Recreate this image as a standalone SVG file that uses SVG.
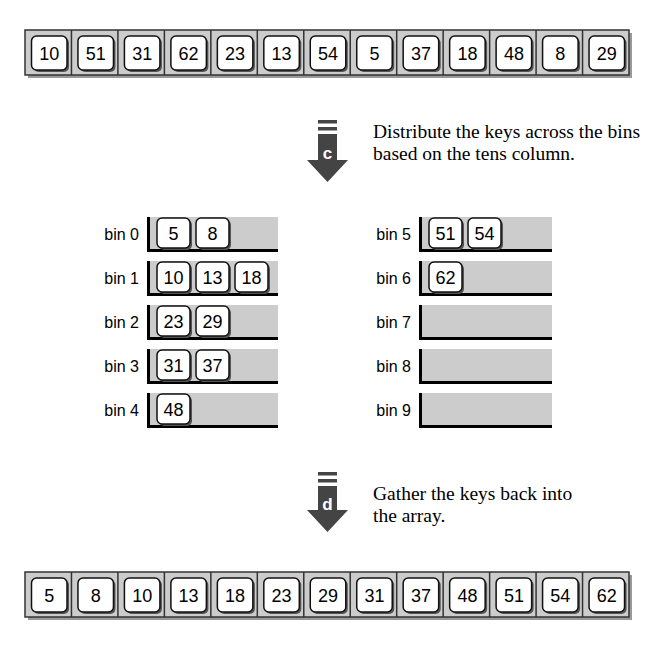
<svg xmlns="http://www.w3.org/2000/svg" width="659" height="650" viewBox="0 0 659 650">
<style>
.arr{fill:#cccccc;stroke:#333333;stroke-width:1.5}
.ash{fill:#999999}
.div{stroke:#333333;stroke-width:1.5}
.key{fill:#ffffff;stroke:#111111;stroke-width:1.5}
.ksh{fill:#555555}
.kt{font-family:"Liberation Sans",Arial,sans-serif;font-size:18px;fill:#000;text-anchor:middle}
.bk{font-family:"Liberation Sans",Arial,sans-serif;font-size:18px;fill:#000;text-anchor:middle}
.bl{font-family:"Liberation Sans",Arial,sans-serif;font-size:16px;fill:#000;text-anchor:end}
.bin{fill:#cccccc}
.edge{fill:#000}
.big{fill:#444444}
.lt{font-family:"Liberation Sans",Arial,sans-serif;font-size:17px;font-weight:bold;fill:#fff;text-anchor:middle}
.cap{font-family:"Liberation Serif","Times New Roman",serif;font-size:19.5px;fill:#000}
</style>
<defs>
<g id="cellkey">
<rect class="ksh" x="8.5" y="8" width="35.5" height="34" rx="5"/>
<rect class="key" x="6.5" y="6" width="35.5" height="34" rx="5"/>
</g>
<g id="binkey">
<rect class="ksh" x="2" y="2" width="33" height="30" rx="5"/>
<rect class="key" x="0" y="0" width="33" height="30" rx="5"/>
</g>
</defs>

<g id="array-top">
<rect class="ash" x="28" y="33" width="604" height="45"/>
<rect class="arr" x="25" y="30" width="604" height="45"/>
<g class="div">
<line x1="71.46" y1="30" x2="71.46" y2="75"/><line x1="117.92" y1="30" x2="117.92" y2="75"/><line x1="164.38" y1="30" x2="164.38" y2="75"/><line x1="210.85" y1="30" x2="210.85" y2="75"/><line x1="257.31" y1="30" x2="257.31" y2="75"/><line x1="303.77" y1="30" x2="303.77" y2="75"/><line x1="350.23" y1="30" x2="350.23" y2="75"/><line x1="396.69" y1="30" x2="396.69" y2="75"/><line x1="443.15" y1="30" x2="443.15" y2="75"/><line x1="489.62" y1="30" x2="489.62" y2="75"/><line x1="536.08" y1="30" x2="536.08" y2="75"/><line x1="582.54" y1="30" x2="582.54" y2="75"/>
</g>
<use href="#cellkey" x="25" y="30"/><use href="#cellkey" x="71.46" y="30"/><use href="#cellkey" x="117.92" y="30"/><use href="#cellkey" x="164.38" y="30"/><use href="#cellkey" x="210.85" y="30"/><use href="#cellkey" x="257.31" y="30"/><use href="#cellkey" x="303.77" y="30"/><use href="#cellkey" x="350.23" y="30"/><use href="#cellkey" x="396.69" y="30"/><use href="#cellkey" x="443.15" y="30"/><use href="#cellkey" x="489.62" y="30"/><use href="#cellkey" x="536.08" y="30"/><use href="#cellkey" x="582.54" y="30"/>
<text class="kt" x="49.2" y="59.5">10</text><text class="kt" x="95.7" y="59.5">51</text><text class="kt" x="142.2" y="59.5">31</text><text class="kt" x="188.6" y="59.5">62</text><text class="kt" x="235.1" y="59.5">23</text><text class="kt" x="281.6" y="59.5">13</text><text class="kt" x="328" y="59.5">54</text><text class="kt" x="374.5" y="59.5">5</text><text class="kt" x="420.9" y="59.5">37</text><text class="kt" x="467.4" y="59.5">18</text><text class="kt" x="513.9" y="59.5">48</text><text class="kt" x="560.3" y="59.5">8</text><text class="kt" x="606.8" y="59.5">29</text>
</g>

<g id="step-c">
<rect class="big" x="318" y="120" width="19" height="3.5"/>
<rect class="big" x="318" y="127" width="19" height="3.5"/>
<polygon class="big" points="318,134 337,134 337,160 348,160 327.5,182 307,160 318,160"/>
<text class="lt" x="327.5" y="159">c</text>
<text class="cap" x="373" y="138">Distribute the keys across the bins</text>
<text class="cap" x="373" y="160">based on the tens column.</text>
</g>

<g id="bin0">
<text class="bl" x="139" y="240">bin 0</text>
<rect class="bin" x="147" y="217" width="131" height="35"/>
<rect class="edge" x="147" y="217" width="3" height="35"/>
<rect class="edge" x="147" y="249" width="131" height="3"/>
<use href="#binkey" x="157" y="218"/><use href="#binkey" x="196" y="218"/>
<text class="bk" x="173.5" y="240">5</text><text class="bk" x="212.5" y="240">8</text>
</g>
<g id="bin1">
<text class="bl" x="139" y="284">bin 1</text>
<rect class="bin" x="147" y="261" width="131" height="35"/>
<rect class="edge" x="147" y="261" width="3" height="35"/>
<rect class="edge" x="147" y="293" width="131" height="3"/>
<use href="#binkey" x="157" y="262"/><use href="#binkey" x="196" y="262"/><use href="#binkey" x="235" y="262"/>
<text class="bk" x="173.5" y="284">10</text><text class="bk" x="212.5" y="284">13</text><text class="bk" x="251.5" y="284">18</text>
</g>
<g id="bin2">
<text class="bl" x="139" y="328">bin 2</text>
<rect class="bin" x="147" y="305" width="131" height="35"/>
<rect class="edge" x="147" y="305" width="3" height="35"/>
<rect class="edge" x="147" y="337" width="131" height="3"/>
<use href="#binkey" x="157" y="306"/><use href="#binkey" x="196" y="306"/>
<text class="bk" x="173.5" y="328">23</text><text class="bk" x="212.5" y="328">29</text>
</g>
<g id="bin3">
<text class="bl" x="139" y="372">bin 3</text>
<rect class="bin" x="147" y="349" width="131" height="35"/>
<rect class="edge" x="147" y="349" width="3" height="35"/>
<rect class="edge" x="147" y="381" width="131" height="3"/>
<use href="#binkey" x="157" y="350"/><use href="#binkey" x="196" y="350"/>
<text class="bk" x="173.5" y="372">31</text><text class="bk" x="212.5" y="372">37</text>
</g>
<g id="bin4">
<text class="bl" x="139" y="416">bin 4</text>
<rect class="bin" x="147" y="393" width="131" height="35"/>
<rect class="edge" x="147" y="393" width="3" height="35"/>
<rect class="edge" x="147" y="425" width="131" height="3"/>
<use href="#binkey" x="157" y="394"/>
<text class="bk" x="173.5" y="416">48</text>
</g>

<g id="bin5">
<text class="bl" x="411" y="240">bin 5</text>
<rect class="bin" x="419" y="217" width="133" height="35"/>
<rect class="edge" x="419" y="217" width="3" height="35"/>
<rect class="edge" x="419" y="249" width="133" height="3"/>
<use href="#binkey" x="429" y="218"/><use href="#binkey" x="468" y="218"/>
<text class="bk" x="445.5" y="240">51</text><text class="bk" x="484.5" y="240">54</text>
</g>
<g id="bin6">
<text class="bl" x="411" y="284">bin 6</text>
<rect class="bin" x="419" y="261" width="133" height="35"/>
<rect class="edge" x="419" y="261" width="3" height="35"/>
<rect class="edge" x="419" y="293" width="133" height="3"/>
<use href="#binkey" x="429" y="262"/>
<text class="bk" x="445.5" y="284">62</text>
</g>
<g id="bin7">
<text class="bl" x="411" y="328">bin 7</text>
<rect class="bin" x="419" y="305" width="133" height="35"/>
<rect class="edge" x="419" y="305" width="3" height="35"/>
<rect class="edge" x="419" y="337" width="133" height="3"/>
</g>
<g id="bin8">
<text class="bl" x="411" y="372">bin 8</text>
<rect class="bin" x="419" y="349" width="133" height="35"/>
<rect class="edge" x="419" y="349" width="3" height="35"/>
<rect class="edge" x="419" y="381" width="133" height="3"/>
</g>
<g id="bin9">
<text class="bl" x="411" y="416">bin 9</text>
<rect class="bin" x="419" y="393" width="133" height="35"/>
<rect class="edge" x="419" y="393" width="3" height="35"/>
<rect class="edge" x="419" y="425" width="133" height="3"/>
</g>

<g id="step-d">
<rect class="big" x="318" y="472" width="19" height="3.5"/>
<rect class="big" x="318" y="479" width="19" height="3.5"/>
<polygon class="big" points="318,486 337,486 337,510 348,510 327.5,532 307,510 318,510"/>
<text class="lt" x="327.5" y="510">d</text>
<text class="cap" x="373" y="500">Gather the keys back into</text>
<text class="cap" x="373" y="522">the array.</text>
</g>

<g id="array-bottom">
<rect class="ash" x="28" y="575" width="604" height="45"/>
<rect class="arr" x="25" y="572" width="604" height="45"/>
<g class="div">
<line x1="71.46" y1="572" x2="71.46" y2="617"/><line x1="117.92" y1="572" x2="117.92" y2="617"/><line x1="164.38" y1="572" x2="164.38" y2="617"/><line x1="210.85" y1="572" x2="210.85" y2="617"/><line x1="257.31" y1="572" x2="257.31" y2="617"/><line x1="303.77" y1="572" x2="303.77" y2="617"/><line x1="350.23" y1="572" x2="350.23" y2="617"/><line x1="396.69" y1="572" x2="396.69" y2="617"/><line x1="443.15" y1="572" x2="443.15" y2="617"/><line x1="489.62" y1="572" x2="489.62" y2="617"/><line x1="536.08" y1="572" x2="536.08" y2="617"/><line x1="582.54" y1="572" x2="582.54" y2="617"/>
</g>
<use href="#cellkey" x="25" y="572"/><use href="#cellkey" x="71.46" y="572"/><use href="#cellkey" x="117.92" y="572"/><use href="#cellkey" x="164.38" y="572"/><use href="#cellkey" x="210.85" y="572"/><use href="#cellkey" x="257.31" y="572"/><use href="#cellkey" x="303.77" y="572"/><use href="#cellkey" x="350.23" y="572"/><use href="#cellkey" x="396.69" y="572"/><use href="#cellkey" x="443.15" y="572"/><use href="#cellkey" x="489.62" y="572"/><use href="#cellkey" x="536.08" y="572"/><use href="#cellkey" x="582.54" y="572"/>
<text class="kt" x="49.2" y="601.5">5</text><text class="kt" x="95.7" y="601.5">8</text><text class="kt" x="142.2" y="601.5">10</text><text class="kt" x="188.6" y="601.5">13</text><text class="kt" x="235.1" y="601.5">18</text><text class="kt" x="281.6" y="601.5">23</text><text class="kt" x="328" y="601.5">29</text><text class="kt" x="374.5" y="601.5">31</text><text class="kt" x="420.9" y="601.5">37</text><text class="kt" x="467.4" y="601.5">48</text><text class="kt" x="513.9" y="601.5">51</text><text class="kt" x="560.3" y="601.5">54</text><text class="kt" x="606.8" y="601.5">62</text>
</g>
</svg>
